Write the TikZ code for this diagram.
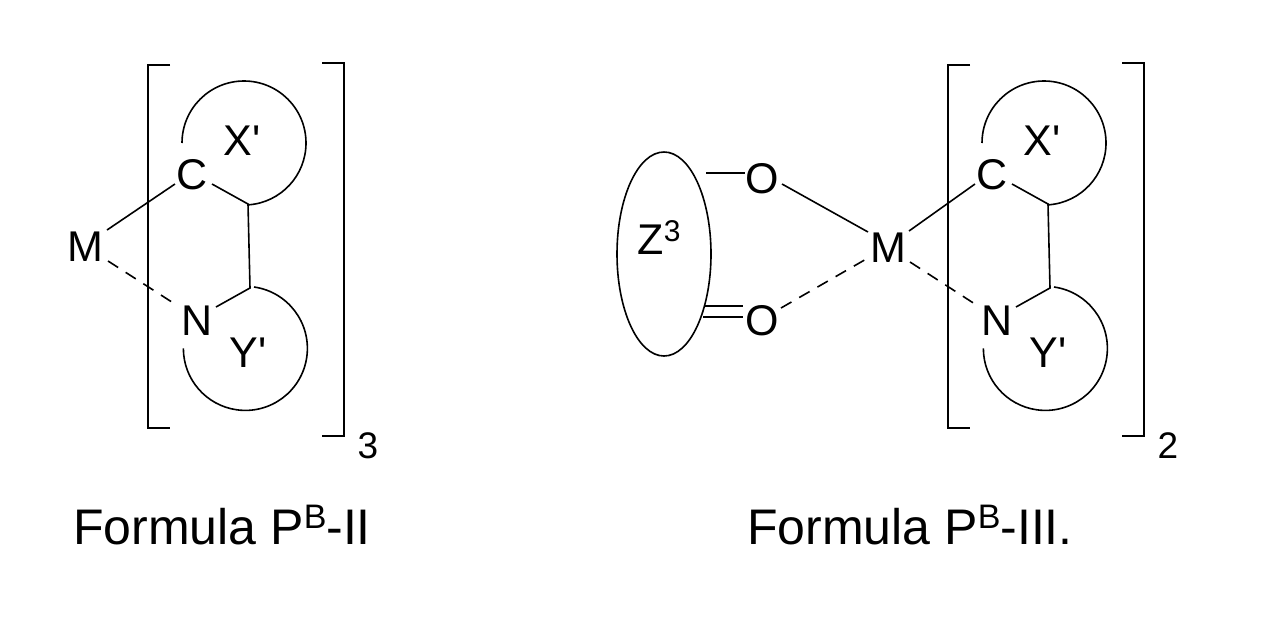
\documentclass[tikz,border=0pt]{standalone}
\usepackage{fontspec}
\setmainfont{Liberation Sans}
\newcommand{\ap}{\textquotesingle}
\begin{document}
\begin{tikzpicture}[x=1pt,y=-1pt,line width=1.6pt,
  lab/.style={inner sep=0pt,font=\fontsize{43}{46}\selectfont},
  sub/.style={inner sep=0pt,font=\fontsize{37}{40}\selectfont},
  captxt/.style={inner sep=0pt,font=\fontsize{50}{56}\selectfont},
  dsh/.style={dash pattern=on 12pt off 9pt}]
\useasboundingbox (0,0) rectangle (1266,627);
\foreach \dx/\n/\s in {0/3/a,800/2/b}{
\begin{scope}[xshift=\dx]
 \node[lab] (C\s) at (192,175) {C};
 \node[lab] (N\s) at (197,321) {N};
 \node[lab] (X\s) at (242,141) {X\ap};
 \node[lab] (Y\s) at (248,353) {Y\ap};
 \coordinate (p\s) at (248,204);
 \coordinate (q\s) at (250,288);
 \draw (182,143) arc[start angle=180,end angle=446,radius=62];
 \draw (254,287) arc[start angle=278,end angle=540,radius=62];
 \draw (212,184) -- (p\s) -- (q\s) -- (216,307);
 \draw (170,65) -- (148,65) -- (148,428) -- (170,428);
 \draw (322,63) -- (344,63) -- (344,436) -- (322,436);
 \node[sub] (n\s) at (368,446) {\n};
\end{scope}}
\node[lab] (Ma) at (85,247) {M};
\draw (107,230) -- (175,184);
\draw[dsh] (108,261) -- (178,306);
\node[lab] (Mb) at (888,248) {M};
\draw (909,231) -- (975,184);
\draw[dsh] (910,262) -- (978,306);
% ellipse part
\draw (664,254) ellipse[x radius=47,y radius=102];
\node[lab] (Z) at (659,238) {Z\raisebox{13pt}{\fontsize{30}{30}\selectfont 3}};
\node[lab] (O1) at (762,179) {O};
\node[lab] (O2) at (762,321) {O};
\draw (706,173) -- (745,173);
\draw (704,306) -- (743,306);
\draw (703,317) -- (743,317);
\draw (782,184) -- (868,232);
\draw[dsh] (781,308) -- (868,258);
\node[captxt] (f1) at (222,525) {Formula P\raisebox{16pt}{\fontsize{34}{34}\selectfont B}-II};
\node[captxt] (f2) at (910,525) {Formula P\raisebox{16pt}{\fontsize{34}{34}\selectfont B}-III.};
\end{tikzpicture}
\end{document}
